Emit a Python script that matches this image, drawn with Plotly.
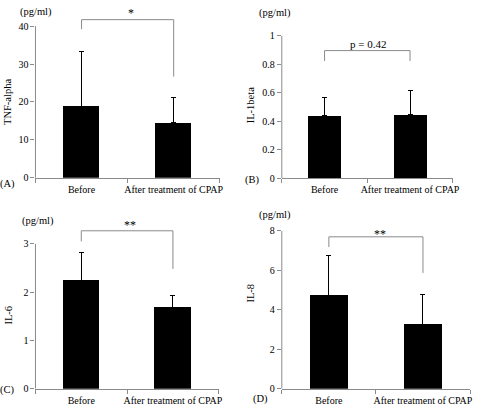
import plotly.graph_objects as go

W, H = 478, 409

categories = ["Before", "After treatment of CPAP"]
panel_letters = ["(A)", "(B)", "(C)", "(D)"]
y_titles = ["TNF-alpha", "IL-1beta", "IL-6", "IL-8"]
unit_label = "(pg/ml)"

means = [
    [18.9, 14.6],
    [0.437, 0.445],
    [2.25, 1.69],
    [4.75, 3.28],
]
sds = [
    [14.4, 6.5],
    [0.126, 0.169],
    [0.57, 0.23],
    [2.02, 1.52],
]
y_tickvals = [
    [0, 10, 20, 30, 40],
    [0, 0.2, 0.4, 0.6, 0.8, 1],
    [0, 1, 2, 3],
    [0, 2, 4, 6, 8],
]
y_ticktext = [
    ["0", "10", "20", "30", "40"],
    ["0", "0.2", "0.4", "0.6", "0.8", "1"],
    ["0", "1", "2", "3"],
    ["0", "2", "4", "6", "8"],
]
y_range_top = [43, 1, 3.35, 8]
sig_labels = ["*", "p = 0.42", "**", "**"]
bracket_top = [41.7, 0.896, 3.27, 7.70]
bracket_left_end = [39.2, 0.823, 3.05, 7.18]
bracket_right_end = [26.7, 0.823, 2.48, 5.87]

# layout (pixels)
plot_px = [  # x_left, x_right, y_top, y_bottom
    (36, 223, 9.0, 177.0),
    (286, 459.5, 30.7, 177.3),
    (36, 222, 227.6, 394.3),
    (286, 477, 231.7, 394.3),
]
bar_widths = [0.39, 0.39, 0.395, 0.41]
unit_pos = [(37, 6), (279, 7), (39, 222), (279, 215)]
title_pos = [(7, 99), (254, 102), (9, 318), (254, 296)]
letter_pos = [(8, 183), (256, 179), (8, 396), (264, 405)]
sig_pos = [(133, 7), (373, 39), (132, 226), (386, 235)]

FONT = "Liberation Serif"
GRAY = "#8a8a8a"
xpos = list(range(len(categories)))

def px(x):
    return x / W

def py(y):
    return 1 - y / H

fig = go.Figure()
annotations = []
shapes = []

for i in range(4):
    xa = "x" if i == 0 else f"x{i+1}"
    ya = "y" if i == 0 else f"y{i+1}"
    xl, xr, yt, yb = plot_px[i]
    fig.add_trace(go.Bar(
        x=xpos, y=means[i], xaxis=xa, yaxis=ya,
        marker=dict(color="black", line=dict(width=0)),
        width=bar_widths[i],
        error_y=dict(type="data", symmetric=False, array=sds[i],
                     arrayminus=[0, 0], color="black", thickness=1, width=2.5),
        showlegend=False,
    ))
    fig.add_trace(go.Scatter(
        x=[xpos[0], xpos[0], xpos[1], xpos[1]],
        y=[bracket_left_end[i], bracket_top[i], bracket_top[i], bracket_right_end[i]],
        xaxis=xa, yaxis=ya, mode="lines",
        line=dict(color=GRAY, width=1), showlegend=False, hoverinfo="skip",
    ))
    xkey = "xaxis" if i == 0 else f"xaxis{i+1}"
    ykey = "yaxis" if i == 0 else f"yaxis{i+1}"
    fig.update_layout(**{
        xkey: dict(domain=[px(xl), px(xr)], anchor=ya, type="linear",
                   range=[-0.5, 1.5], showline=True, linecolor=GRAY, linewidth=1,
                   tickvals=xpos, ticktext=categories, tickangle=0,
                   ticks="", ticklabelstandoff=2,
                   minor=dict(tickvals=[-0.5, 0.5, 1.5], ticks="outside", ticklen=4,
                              tickcolor=GRAY, showgrid=False),
                   showgrid=False, zeroline=False,
                   tickfont=dict(family=FONT, size=10, color="black")),
        ykey: dict(domain=[py(yb), py(yt)], anchor=xa, range=[0, y_range_top[i]],
                   showline=False, showgrid=False, zeroline=False,
                   tickvals=y_tickvals[i], ticktext=y_ticktext[i],
                   ticks="outside", ticklen=4, tickcolor=GRAY,
                   tickfont=dict(family=FONT, size=10, color="black")),
    })
    shapes.append(dict(type="line", xref=f"{xa} domain", yref=ya,
                       x0=0, x1=0, y0=0, y1=y_tickvals[i][-1],
                       line=dict(color=GRAY, width=1)))
    annotations.append(dict(text=unit_label, x=px(unit_pos[i][0]), y=py(unit_pos[i][1]),
                            xref="paper", yref="paper", showarrow=False,
                            xanchor="center", yanchor="middle",
                            font=dict(family=FONT, size=10.5, color="black")))
    annotations.append(dict(text=y_titles[i], x=px(title_pos[i][0]), y=py(title_pos[i][1]),
                            xref="paper", yref="paper", showarrow=False, textangle=-90,
                            xanchor="center", yanchor="middle",
                            font=dict(family=FONT, size=10.5, color="black")))
    annotations.append(dict(text=panel_letters[i], x=px(letter_pos[i][0]), y=py(letter_pos[i][1]),
                            xref="paper", yref="paper", showarrow=False,
                            xanchor="center", yanchor="middle",
                            font=dict(family=FONT, size=10.5, color="black")))
    annotations.append(dict(text=sig_labels[i], x=px(sig_pos[i][0]), y=py(sig_pos[i][1]),
                            xref="paper", yref="paper", showarrow=False,
                            xanchor="center", yanchor="middle",
                            font=dict(family=FONT, size=11 if i == 1 else 12, color="black")))

fig.update_layout(
    width=W, height=H, margin=dict(l=0, r=0, t=0, b=0),
    paper_bgcolor="white", plot_bgcolor="white",
    annotations=annotations, shapes=shapes, bargap=0,
    font=dict(family=FONT, size=10, color="black"),
)

fig.write_html("out.html", config={"displayModeBar": False},
               post_script="document.body.style.margin='0';document.body.style.overflow='hidden';")
